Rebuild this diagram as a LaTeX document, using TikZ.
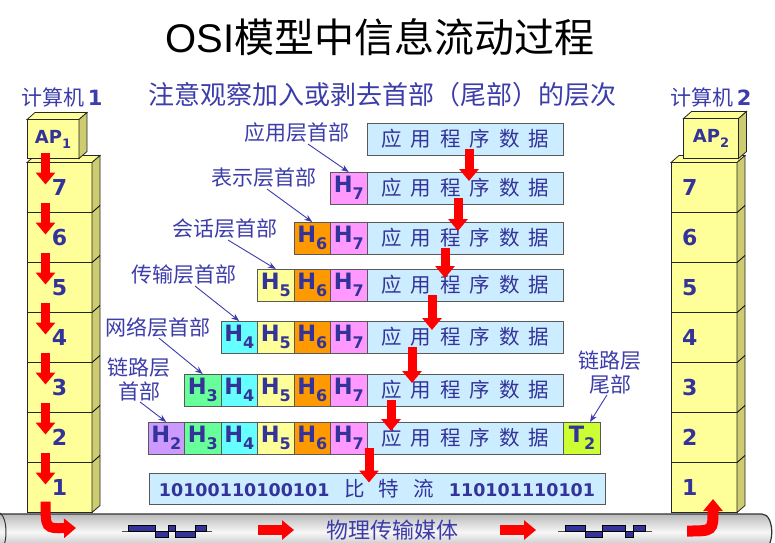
\documentclass[tikz,border=0pt]{standalone}
\usepackage{fontspec}
\setmainfont{Liberation Sans}
\newfontfamily\cjk{Noto Sans CJK SC}
\newfontfamily\verd{DejaVu Sans}
\usetikzlibrary{arrows.meta,calc}

\definecolor{ink}{RGB}{51,51,153}
\definecolor{tagblue}{RGB}{60,60,170}
\definecolor{stackfront}{RGB}{255,255,153}
\definecolor{stackside}{RGB}{206,204,112}
\definecolor{datafill}{RGB}{204,236,255}
\definecolor{hsev}{RGB}{255,153,255}
\definecolor{hsix}{RGB}{255,153,0}
\definecolor{hfiv}{RGB}{255,255,153}
\definecolor{hfou}{RGB}{102,255,255}
\definecolor{hthr}{RGB}{102,255,153}
\definecolor{htwo}{RGB}{204,153,255}
\definecolor{ttwo}{RGB}{204,255,51}

\newcommand\fsz[1]{\fontsize{#1}{#1}\selectfont}
% header cell text, e.g. H with a lowered 7
\newcommand\hdr[2]{{\verd\bfseries\fsz{22.5}#1\raisebox{-7pt}{\fsz{16}#2}}}
\newcommand\appdata{应\hspace{9pt}用\hspace{9pt}程\hspace{9pt}序\hspace{9pt}数\hspace{9pt}据}

\tikzset{
  osilayer/.style={draw=black!85, fill=stackfront, line width=0.8pt, inner sep=0pt, outer sep=0pt,
    minimum width=65pt, minimum height=50pt, text=ink, font=\verd\bfseries\fsz{22}},
  topface/.style={draw=black!85, fill=stackfront, line width=0.8pt},
  sideface/.style={draw=black!85, fill=stackside, line width=0.8pt},
  databox/.style={draw=black!65, fill=datafill, line width=0.8pt, inner sep=0pt, outer sep=0pt,
    minimum width=196pt, minimum height=32pt, text=ink, font=\cjk\fsz{20.5}},
  hcell/.style={draw=black!65, line width=0.8pt, inner sep=0pt, outer sep=0pt,
    minimum width=36.5pt, minimum height=32pt, text=ink},
  tag/.style={text=tagblue, font=\cjk\fontsize{21}{24}\selectfont, inner sep=1pt, align=center},
  flow/.style={red, line width=9pt, -{Triangle[width=19pt,length=12pt]}},
  pointer/.style={draw=tagblue, line width=0.9pt, -{Stealth[length=8pt,width=6pt]}},
}

\begin{document}
\begin{tikzpicture}[x=1pt,y=-1pt]
\useasboundingbox (0,0) rectangle (775,542);

% headings
\node (title) at (380,37) {\fsz{40}OSI{\cjk 模型中信息流动过程}};
\node[tag, font=\cjk\fsz{26}] (hint) at (382,95) {注意观察加入或剥去首部（尾部）的层次};
\node[tag] (pc1) at (62,97) {计算机\,{\verd\bfseries 1}};
\node[tag] (pc2) at (711,97) {计算机\,{\verd\bfseries 2}};

% physical medium
\shade[top color=gray!55, bottom color=gray!55, middle color=gray!6]
  (-5,514) -- (762,514) .. controls (775,514) and (775,550) .. (762,550) -- (-5,550) -- cycle;
\draw[line width=1.2pt, black!80] (-5,514) -- (762,514) .. controls (775,514) and (775,550) .. (762,550);
\draw[line width=1pt, black!80] (0,513) .. controls (8,518) and (8,546) .. (0,551);
\draw[black!70, line width=0.8pt] (122,531) -- (212,531);
\filldraw[fill=ink, draw=black, line width=0.5pt] (128,525) rectangle (155,531) (155,531) rectangle (168,537)
  (168,525) rectangle (175,531) (175,531) rectangle (195,537) (195,525) rectangle (206,531);
\draw[black!70, line width=0.8pt] (558,531) -- (652,531);
\filldraw[fill=ink, draw=black, line width=0.5pt] (565,525) rectangle (585,531) (585,531) rectangle (602,537)
  (602,525) rectangle (625,531) (625,531) rectangle (633,537) (633,525) rectangle (645,531);
\node[tag, font=\cjk\fsz{22}] (medium) at (392,530) {物理传输媒体};
\coordinate (m1) at (258,530);
\coordinate (m2) at (294,530);
\coordinate (m3) at (500,530);
\coordinate (m4) at (536,530);
\draw[flow, line width=10pt] (m1) -- (m2);
\draw[flow, line width=10pt] (m3) -- (m4);

% computer 1
\node[osilayer] (a7) at (59.5,187.5) {7};
\node[osilayer] (a6) at (59.5,237.5) {6};
\node[osilayer] (a5) at (59.5,287.5) {5};
\node[osilayer] (a4) at (59.5,337.5) {4};
\node[osilayer] (a3) at (59.5,387.5) {3};
\node[osilayer] (a2) at (59.5,437.5) {2};
\node[osilayer] (a1) at (59.5,487.5) {1};
\filldraw[topface] (a7.north west) -- ++(8,-7) -- ($(a7.north east)+(8,-7)$) -- (a7.north east) -- cycle;
\filldraw[sideface] (a7.north east) -- ++(8,-7) -- ($(a1.south east)+(8,-7)$) -- (a1.south east) -- cycle;
\draw[line width=0.8pt] (a6.north east) -- ++(8,-7) (a5.north east) -- ++(8,-7) (a4.north east) -- ++(8,-7)
  (a3.north east) -- ++(8,-7) (a2.north east) -- ++(8,-7) (a1.north east) -- ++(8,-7);
\node[osilayer, minimum width=52pt, minimum height=39pt, font=\verd\bfseries\fsz{18}] (ap1) at (53,139) {AP\raisebox{-5pt}{\fsz{13}1}};
\filldraw[topface] (ap1.north west) -- ++(8,-7) -- ($(ap1.north east)+(8,-7)$) -- (ap1.north east) -- cycle;
\filldraw[sideface] (ap1.north east) -- ++(8,-7) -- ($(ap1.south east)+(8,-7)$) -- (ap1.south east) -- cycle;
\draw[flow] ($(a7.north)+(-14,-10)$) -- ($(a7.center)+(-14,-3)$);
\draw[flow] ($(a6.north)+(-14,-10)$) -- ($(a6.center)+(-14,-3)$);
\draw[flow] ($(a5.north)+(-14,-10)$) -- ($(a5.center)+(-14,-3)$);
\draw[flow] ($(a4.north)+(-14,-10)$) -- ($(a4.center)+(-14,-3)$);
\draw[flow] ($(a3.north)+(-14,-10)$) -- ($(a3.center)+(-14,-3)$);
\draw[flow] ($(a2.north)+(-14,-10)$) -- ($(a2.center)+(-14,-3)$);
\draw[flow] ($(a1.north)+(-14,-10)$) -- ($(a1.center)+(-14,-3)$);
\coordinate (tomedium) at (76,528);
\draw[flow, line width=10pt] ($(a1.south)+(-14,-11)$) .. controls ($(a1.south)+(-14,16)$) .. (tomedium);

% computer 2
\node[osilayer, minimum width=66pt, text width=44pt, align=left] (b7) at (704,187.5) {7};
\node[osilayer, minimum width=66pt, text width=44pt, align=left] (b6) at (704,237.5) {6};
\node[osilayer, minimum width=66pt, text width=44pt, align=left] (b5) at (704,287.5) {5};
\node[osilayer, minimum width=66pt, text width=44pt, align=left] (b4) at (704,337.5) {4};
\node[osilayer, minimum width=66pt, text width=44pt, align=left] (b3) at (704,387.5) {3};
\node[osilayer, minimum width=66pt, text width=44pt, align=left] (b2) at (704,437.5) {2};
\node[osilayer, minimum width=66pt, text width=44pt, align=left] (b1) at (704,487.5) {1};
\filldraw[topface] (b7.north west) -- ++(8,-7) -- ($(b7.north east)+(8,-7)$) -- (b7.north east) -- cycle;
\filldraw[sideface] (b7.north east) -- ++(8,-7) -- ($(b1.south east)+(8,-7)$) -- (b1.south east) -- cycle;
\draw[line width=0.8pt] (b6.north east) -- ++(8,-7) (b5.north east) -- ++(8,-7) (b4.north east) -- ++(8,-7)
  (b3.north east) -- ++(8,-7) (b2.north east) -- ++(8,-7) (b1.north east) -- ++(8,-7);
\node[osilayer, minimum width=55pt, minimum height=40pt, font=\verd\bfseries\fsz{18}] (ap2) at (711,138.5) {AP\raisebox{-5pt}{\fsz{13}2}};
\filldraw[topface] (ap2.north west) -- ++(8,-7) -- ($(ap2.north east)+(8,-7)$) -- (ap2.north east) -- cycle;
\filldraw[sideface] (ap2.north east) -- ++(8,-7) -- ($(ap2.south east)+(8,-7)$) -- (ap2.south east) -- cycle;
\coordinate (frommedium) at (687,531);
\draw[flow, line width=11pt] (frommedium) .. controls ($(b1.south)+(9,18.5)$) .. ($(b1.south)+(9,-13.5)$);

% encapsulated data units
\node[databox] (d1) at (465,139) {\appdata};
\node[hcell, fill=hsev] (h27) at (348.75,188) {\hdr H7};
\node[databox] (d2) at (465,188) {\appdata};
\node[hcell, fill=hsix] (h36) at (312.25,238) {\hdr H6};
\node[hcell, fill=hsev] (h37) at (348.75,238) {\hdr H7};
\node[databox] (d3) at (465,238) {\appdata};
\node[hcell, fill=hfiv] (h45) at (275.75,285) {\hdr H5};
\node[hcell, fill=hsix] (h46) at (312.25,285) {\hdr H6};
\node[hcell, fill=hsev] (h47) at (348.75,285) {\hdr H7};
\node[databox] (d4) at (465,285) {\appdata};
\node[hcell, fill=hfou] (h54) at (239.25,337) {\hdr H4};
\node[hcell, fill=hfiv] (h55) at (275.75,337) {\hdr H5};
\node[hcell, fill=hsix] (h56) at (312.25,337) {\hdr H6};
\node[hcell, fill=hsev] (h57) at (348.75,337) {\hdr H7};
\node[databox] (d5) at (465,337) {\appdata};
\node[hcell, fill=hthr] (h63) at (202.75,390) {\hdr H3};
\node[hcell, fill=hfou] (h64) at (239.25,390) {\hdr H4};
\node[hcell, fill=hfiv] (h65) at (275.75,390) {\hdr H5};
\node[hcell, fill=hsix] (h66) at (312.25,390) {\hdr H6};
\node[hcell, fill=hsev] (h67) at (348.75,390) {\hdr H7};
\node[databox] (d6) at (465,390) {\appdata};
\node[hcell, fill=htwo] (h72) at (166.25,438) {\hdr H2};
\node[hcell, fill=hthr] (h73) at (202.75,438) {\hdr H3};
\node[hcell, fill=hfou] (h74) at (239.25,438) {\hdr H4};
\node[hcell, fill=hfiv] (h75) at (275.75,438) {\hdr H5};
\node[hcell, fill=hsix] (h76) at (312.25,438) {\hdr H6};
\node[hcell, fill=hsev] (h77) at (348.75,438) {\hdr H7};
\node[databox] (d7) at (465,438) {\appdata};
\node[hcell, fill=ttwo] (t2) at (582,438) {\hdr T2};
\node[databox, minimum width=456pt, minimum height=31pt] (bits) at (377,489)
  {{\verd\bfseries\fsz{17.5}10100110100101}\hspace{15pt}比\hspace{14pt}特\hspace{14pt}流\hspace{15pt}{\verd\bfseries\fsz{17.5}110101110101}};

% header names
\node[tag] (l7) at (297,133) {应用层首部};
\node[tag] (l6) at (264,178) {表示层首部};
\node[tag] (l5) at (225,229) {会话层首部};
\node[tag] (l4) at (184,275) {传输层首部};
\node[tag] (l3) at (158,327) {网络层首部};
\node[tag] (l2) at (139,379) {链路层\\首部};
\node[tag] (lt) at (610,372) {链路层\\尾部};
\draw[pointer] ([xshift=11pt]l7.south) -- (h27.north);
\draw[pointer] ([xshift=3pt]l6.south) -- (h36.north);
\draw[pointer] ([xshift=3pt]l5.south) -- (h45.north);
\draw[pointer] ([xshift=11pt]l4.south) -- (h54.north);
\draw[pointer] ([xshift=1pt]l3.south) -- (h63.north);
\draw[pointer] ([xshift=1pt]l2.south) -- (h72.north);
\draw[pointer] ([xshift=-3pt]lt.south) -- ([xshift=8pt]t2.north);

% passing down
\draw[flow] ($(d1.south)+(4,-6)$) -- ($(d2.north)+(4,9)$);
\draw[flow] ($(d2.south)+(-7,-6)$) -- ($(d3.north)+(-7,9)$);
\draw[flow] ($(d3.south)+(-20,-6)$) -- ($(d4.north)+(-20,9)$);
\draw[flow] ($(d4.south)+(-33,-6)$) -- ($(d5.north)+(-33,9)$);
\draw[flow] ($(d5.south)+(-53,-6)$) -- ($(d6.north)+(-53,9)$);
\draw[flow] ($(d6.south)+(-74,-6)$) -- ($(d7.north)+(-74,9)$);
\draw[flow] ($(d7.south)+(-96,-6)$) -- ($(bits.north)+(-8,9)$);
\end{tikzpicture}
\end{document}
